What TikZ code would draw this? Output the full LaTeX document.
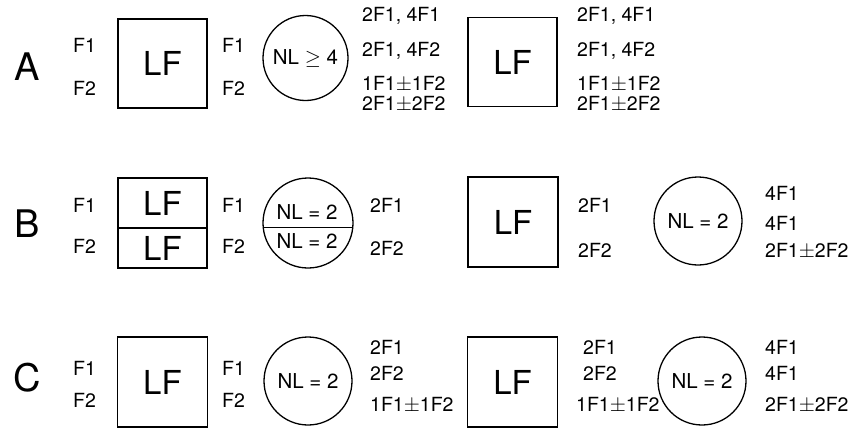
\documentclass[tikz,border=0pt]{standalone}
\usepackage{fontspec}
\setmainfont{TeX Gyre Heros}
\usepackage{tikz}
\tikzset{>=latex}

\begin{document}
\begin{tikzpicture}[x=1pt,y=-1pt,
    lf/.style={draw, line width=1.3pt, minimum width=89pt, minimum height=89pt,
      inner sep=0pt, font=\fontsize{33}{33}\selectfont},
    nl/.style={draw, circle, line width=1.3pt, minimum size=88pt, inner sep=0pt,
      font=\fontsize{20.5}{20.5}\selectfont},
    lbl/.style={anchor=west, inner sep=0pt, font=\fontsize{19.5}{19.5}\selectfont},
    rowtag/.style={inner sep=0pt, font=\fontsize{38}{38}\selectfont}]

  \useasboundingbox (0,0) rectangle (851,429);

  % Row A
  \node[rowtag]                 (tagA)   at (27,67)   {A};
  \node[lbl]                    (inAa)   at (73,45)   {F1};
  \node[lbl]                    (inAb)   at (73,88)   {F2};
  \node[lf]                     (lfAa)   at (162.5,63.5) {LF};
  \node[lbl]                    (midAa)  at (222,45)  {F1};
  \node[lbl]                    (midAb)  at (222,88)  {F2};
  \node[nl, minimum size=85pt]  (nlA)    at (305.5,58) {NL $\geq$ 4};
  \node[lbl]                    (outAa)  at (362,16)  {2F1, 4F1};
  \node[lbl]                    (outAb)  at (362,51)  {2F1, 4F2};
  \node[lbl]                    (outAc)  at (362,84)  {1F1$\pm$1F2};
  \node[lbl]                    (outAd)  at (362,104) {2F1$\pm$2F2};
  \node[lf]                     (lfAb)   at (512.5,62) {LF};
  \node[lbl]                    (finAa)  at (577,16)  {2F1, 4F1};
  \node[lbl]                    (finAb)  at (577,51)  {2F1, 4F2};
  \node[lbl]                    (finAc)  at (577,84)  {1F1$\pm$1F2};
  \node[lbl]                    (finAd)  at (577,104) {2F1$\pm$2F2};

  % Row B
  \node[rowtag]                 (tagB)   at (27,224)  {B};
  \node[lbl]                    (inBa)   at (73,205)  {F1};
  \node[lbl]                    (inBb)   at (73,246)  {F2};
  \node[lf, minimum height=50pt] (lfBa)  at (162.5,203) {LF};
  \node[lf, minimum height=40pt] (lfBb)  at (162.5,248) {LF};
  \node[lbl]                    (midBa)  at (222,205) {F1};
  \node[lbl]                    (midBb)  at (222,246) {F2};
  \node[nl, minimum size=90pt]  (nlB)    at (308,223) {};
  \node[inner sep=0pt, font=\fontsize{20.5}{20.5}\selectfont] (nlBa) at (307,212) {NL = 2};
  \node[inner sep=0pt, font=\fontsize{20.5}{20.5}\selectfont] (nlBb) at (307,241) {NL = 2};
  \node[lbl]                    (outBa)  at (370,205) {2F1};
  \node[lbl]                    (outBb)  at (370,248) {2F2};
  \node[lf, minimum size=90pt]  (lfBc)   at (513,222) {LF};
  \node[lbl]                    (finBa)  at (578,205) {2F1};
  \node[lbl]                    (finBb)  at (578,250) {2F2};
  \node[nl]                     (nlBc)   at (698,221) {NL = 2};
  \node[lbl]                    (endBa)  at (765,193) {4F1};
  \node[lbl]                    (endBb)  at (765,223) {4F1};
  \node[lbl]                    (endBc)  at (765,251) {2F1$\pm$2F2};

  % Row C
  \node[rowtag]                 (tagC)   at (27,378)  {C};
  \node[lbl]                    (inCa)   at (73,368)  {F1};
  \node[lbl]                    (inCb)   at (73,400)  {F2};
  \node[lf, minimum size=90pt]  (lfCa)   at (162.5,382) {LF};
  \node[lbl]                    (midCa)  at (222,368) {F1};
  \node[lbl]                    (midCb)  at (222,400) {F2};
  \node[nl]                     (nlC)    at (308,381) {NL = 2};
  \node[lbl]                    (outCa)  at (370,347) {2F1};
  \node[lbl]                    (outCb)  at (370,373) {2F2};
  \node[lbl]                    (outCc)  at (370,405) {1F1$\pm$1F2};
  \node[lf, minimum size=90pt]  (lfCb)   at (512.5,382) {LF};
  \node[lbl]                    (finCa)  at (583,347) {2F1};
  \node[lbl]                    (finCb)  at (583,373) {2F2};
  \node[lbl]                    (finCc)  at (576,405) {1F1$\pm$1F2};
  \node[nl]                     (nlCb)   at (702,381) {NL = 2};
  \node[lbl]                    (endCa)  at (765,347) {4F1};
  \node[lbl]                    (endCb)  at (765,373) {4F1};
  \node[lbl]                    (endCc)  at (765,405) {2F1$\pm$2F2};

  % Edges
  \draw[line width=1.3pt] (nlB.186) -- (nlB.-6);

\end{tikzpicture}
\end{document}
